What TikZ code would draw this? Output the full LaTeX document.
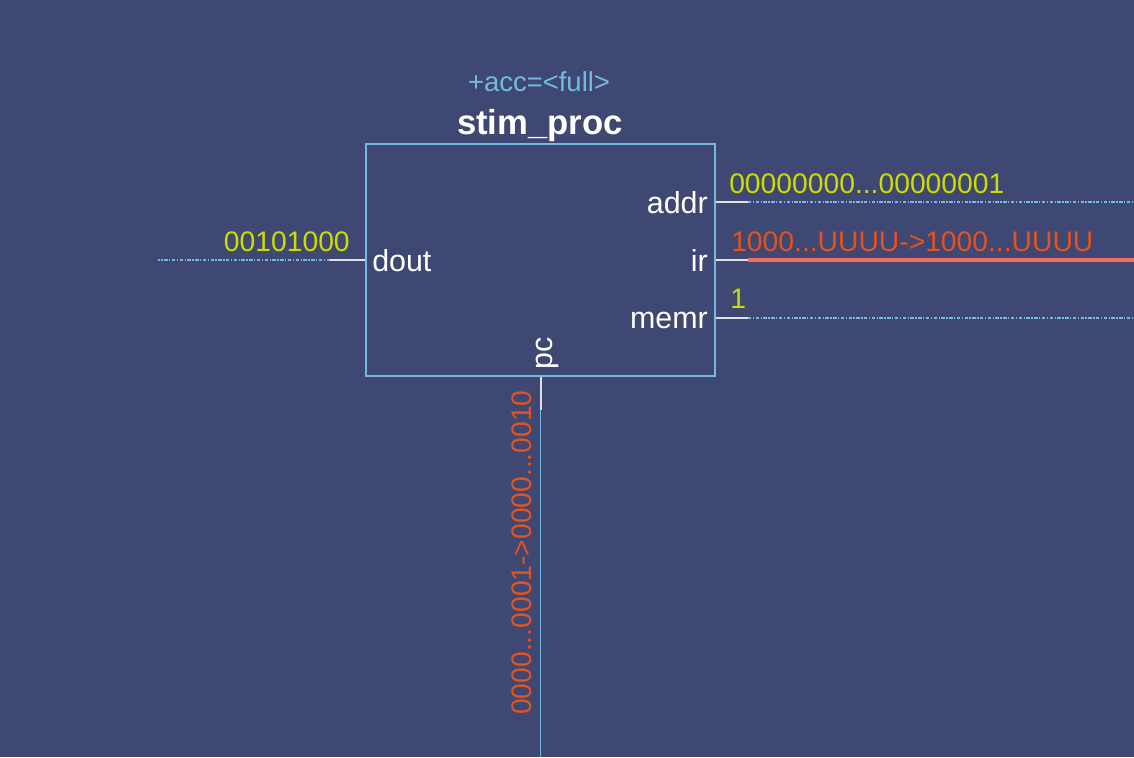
\documentclass[tikz,border=0pt]{standalone}
\usepackage{fontspec}
\setmainfont{Liberation Sans}
\definecolor{bgblue}{RGB}{63,72,114}
\definecolor{wireblue}{RGB}{115,185,225}
\definecolor{valyellow}{RGB}{205,220,0}
\definecolor{valred}{RGB}{228,82,32}
\definecolor{busred}{RGB}{240,112,98}
\definecolor{stubgray}{RGB}{225,225,232}
\begin{document}
\begin{tikzpicture}[x=0.75pt, y=-0.75pt,
    portlabel/.style={text=white, inner sep=0pt, font=\fontsize{22.8}{26}\selectfont},
    vallabel/.style={text=valyellow, inner sep=0pt, font=\fontsize{21.2}{25}\selectfont},
    chglabel/.style={text=valred, inner sep=0pt, font=\fontsize{21.2}{25}\selectfont},
    stub/.style={draw=stubgray, line width=1.5pt},
    net/.style={draw=wireblue, line width=1pt, dash pattern=on 2.6pt off 1.1pt on 1pt off 1.1pt}]
    % Background
    \path[use as bounding box, fill=bgblue] (0,0) rectangle (1134,757);

    % Process block
    \node[draw=wireblue, line width=1.1pt, minimum width=261.75pt, minimum height=174pt, inner sep=0pt] (proc) at (540.5,260) {};
    \node[text=white, inner sep=0pt, anchor=base, font=\fontsize{26}{30}\selectfont\bfseries] (title) at (540,134) {stim\_proc};
    \node[text=wireblue, inner sep=0pt, anchor=base, font=\fontsize{20.6}{24}\selectfont] (attr) at (539,91) {+acc=<full>};

    % Port names
    \node[portlabel, anchor=base west] (doutname) at (372,271) {dout};
    \node[portlabel, anchor=base east] (addrname) at (708,213) {addr};
    \node[portlabel, anchor=base east] (irname) at (708,271) {ir};
    \node[portlabel, anchor=base east] (memrname) at (708,328) {memr};
    \node[portlabel, anchor=base east, rotate=90] (pcname) at (552,337) {pc};

    % Pin ends and wire ends
    \coordinate (doutpin) at (330,260);
    \coordinate (doutend) at (158,260);
    \coordinate (addrpin) at (748,202);
    \coordinate (addrend) at (1134,202);
    \coordinate (irpin) at (748,260);
    \coordinate (irend) at (1134,260);
    \coordinate (memrpin) at (748,318);
    \coordinate (memrend) at (1134,318);
    \coordinate (pcpin) at (540.5,410);
    \coordinate (pcend) at (540.5,757);

    % Pins
    \draw[stub] (proc.west) -- (doutpin);
    \draw[stub] (proc.east |- addrpin) -- (addrpin);
    \draw[stub] (proc.east) -- (irpin);
    \draw[stub] (proc.east |- memrpin) -- (memrpin);
    \draw[stub] (proc.south) -- (pcpin);

    % Wires
    \draw[net] (doutpin) -- (doutend);
    \draw[net] (addrpin) -- (addrend);
    \draw[draw=busred, line width=3pt] (irpin) -- (irend);
    \draw[net] (memrpin) -- (memrend);
    \draw[draw=wireblue, line width=1.1pt] (pcpin) -- (pcend);

    % Values
    \node[vallabel, anchor=base east] (doutval) at (350,251) {00101000};
    \node[vallabel, anchor=base west] (addrval) at (729,193) {00000000...00000001};
    \node[chglabel, anchor=base west] (irval) at (731,251) {1000...UUUU->1000...UUUU};
    \node[vallabel, anchor=base west] (memrval) at (730,308) {1};
    \node[chglabel, anchor=base east, rotate=90] (pcval) at (531,390) {0000...0001->0000...0010};
\end{tikzpicture}
\end{document}
